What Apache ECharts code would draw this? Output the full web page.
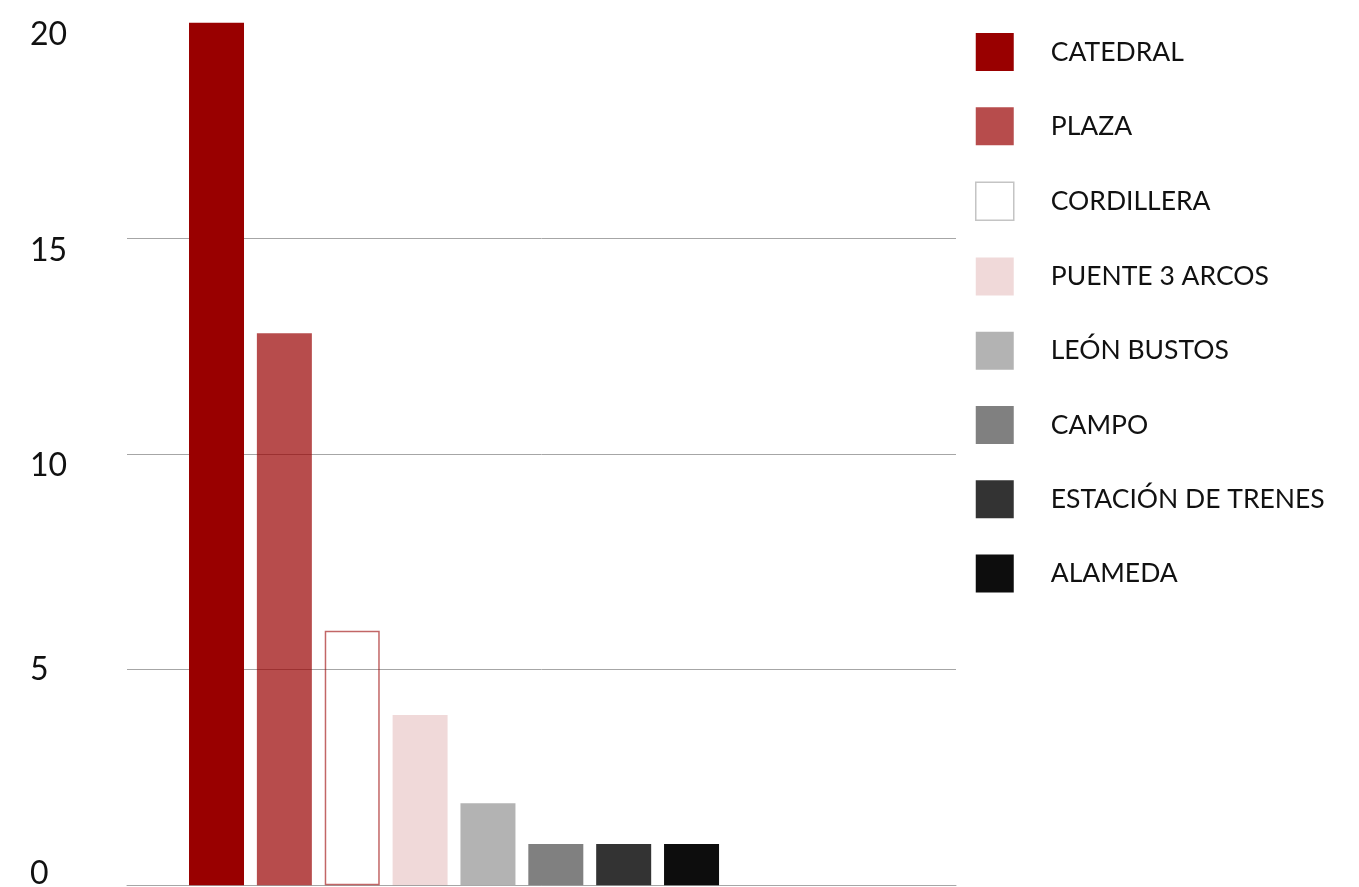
<!DOCTYPE html>
<html>
<head>
<meta charset="utf-8">
<script src="https://cdn.jsdelivr.net/npm/echarts@6/dist/echarts.min.js"></script>
<style>
  html, body { margin: 0; padding: 0; background: #ffffff; }
  #chart { width: 1359px; height: 887px; }
</style>
</head>
<body>
<div id="chart"></div>
<script>
// ---- data ----
const categories = ['CATEDRAL', 'PLAZA', 'CORDILLERA', 'PUENTE 3 ARCOS', 'LEÓN BUSTOS', 'CAMPO', 'ESTACIÓN DE TRENES', 'ALAMEDA'];
const values = [20, 12.8, 5.9, 3.95, 1.9, 0.96, 0.96, 0.96];
const yTicks = [0, 5, 10, 15, 20];

// ---- styles ----
const barStyles = [
  { color: '#990000' },
  { color: 'rgba(153,0,0,0.7)' },
  { color: 'rgba(255,255,255,0)', borderColor: 'rgba(153,0,0,0.6)', borderWidth: 1.5 },
  { color: 'rgba(153,0,0,0.15)' },
  { color: '#b3b3b3' },
  { color: '#808080' },
  { color: '#333333' },
  { color: '#0d0d0d' }
];
const legendStyles = [
  null, null,
  { color: '#ffffff', borderColor: '#c4c4c4', borderWidth: 1.5 },
  null, null, null, null, null
];

const chart = echarts.init(document.getElementById('chart'), null, { renderer: 'canvas' });

const series = categories.map((name, i) => ({
  name: name,
  type: 'bar',
  data: [[i + 1, values[i]]],
  barWidth: 55,
  barGap: '-100%',
  itemStyle: barStyles[i],
  emphasis: { disabled: true },
  z: 2
}));

const option = {
  animation: false,
  backgroundColor: '#ffffff',
  textStyle: { fontFamily: 'Lato' },
  grid: {
    left: 127, right: 403, top: 22.7, bottom: 1.7,
    containLabel: false,
    outerBoundsMode: 'none'
  },
  legend: {
    orient: 'vertical',
    left: 975,
    top: 33,
    padding: 0,
    icon: 'rect',
    itemWidth: 38,
    itemHeight: 38,
    itemGap: 36.3,
    selectedMode: false,
    textStyle: { fontFamily: 'Lato', fontSize: 26.5, color: '#111', padding: [0, 0, 0, 32] },
    data: categories.map((n, i) => legendStyles[i] ? { name: n, itemStyle: legendStyles[i] } : { name: n })
  },
  xAxis: {
    type: 'value',
    min: -0.319,
    max: 11.897,
    axisLine: { show: true, lineStyle: { color: '#a6a6a6', width: 1 } },
    axisTick: { show: false },
    axisLabel: { show: false },
    splitLine: { show: false }
  },
  yAxis: {
    type: 'value',
    min: yTicks[0],
    max: yTicks[yTicks.length - 1],
    interval: 5,
    axisLine: { show: false },
    axisTick: { show: false },
    splitLine: { show: true, showMaxLine: false, lineStyle: { color: '#a6a6a6', width: 1 } },
    axisLabel: {
      margin: 97,
      align: 'left',
      fontFamily: 'Lato',
      fontSize: 32,
      lineHeight: 24,
      color: '#111',
      formatter: function (v) {
        if (v === 0) return v + '\n';
        if (v === 5) return '' + v;
        return '\n' + v;
      }
    }
  },
  series: series
};

chart.setOption(option);
</script>
</body>
</html>
